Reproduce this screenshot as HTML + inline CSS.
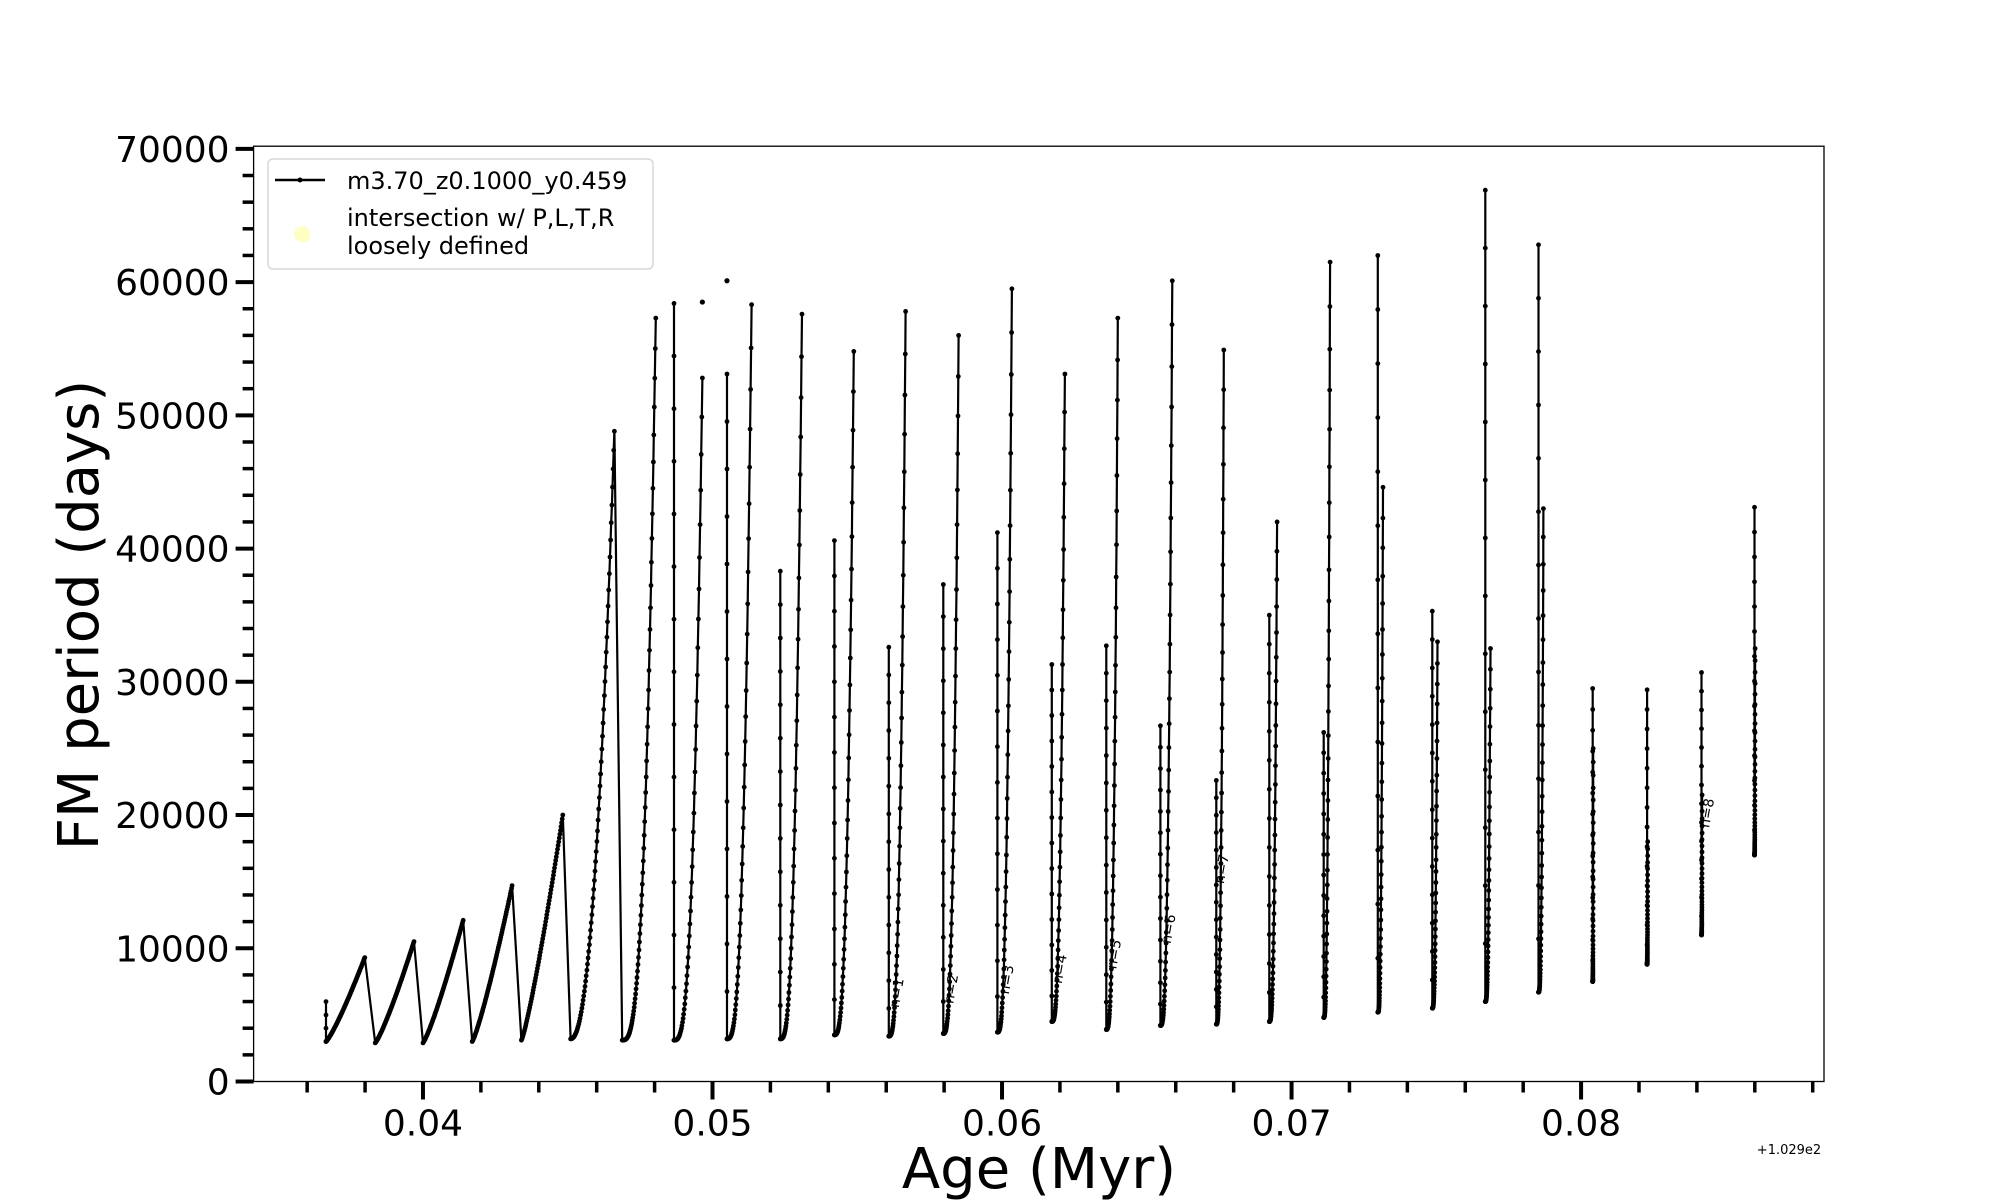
<!DOCTYPE html>
<html><head><meta charset="utf-8"><style>
body{margin:0;background:#fff}
svg{display:block;font-family:"DejaVu Sans","Liberation Sans",sans-serif}
</style></head><body>
<svg id="chart" width="2000" height="1200" viewBox="0 0 2000 1200">
<g id="plot"></g>
<g id="axes"></g>
<text x="1039" y="1188" font-size="56" text-anchor="middle">Age (Myr)</text>
<text transform="translate(98,615) rotate(-90)" font-size="56" text-anchor="middle">FM period (days)</text>
<text x="1789" y="1154" font-size="13" text-anchor="middle">+1.029e2</text>
<g>
<rect x="268" y="159" width="385" height="110" rx="5" fill="#fff" fill-opacity="0.85" stroke="#d8d8d8" stroke-width="1.5"/>
<line x1="275" y1="180" x2="325" y2="180" stroke="#000" stroke-width="2.5"/>
<circle cx="300" cy="180" r="2.5" fill="#000"/>
<text x="347" y="189" font-size="24">m3.70_z0.1000_y0.459</text>
<circle cx="302" cy="234" r="8" fill="#ffff99" fill-opacity="0.6"/>
<text x="347" y="226" font-size="24">intersection w/ P,L,T,R</text>
<text x="347" y="254" font-size="24">loosely defined</text>
</g>
</svg>
<script>
const starts=[0.03665,0.03835,0.0400,0.0417,0.0434,0.0451,0.04688,0.04867,0.0505,0.05234,0.05421,0.05609,0.05797,0.05984,0.06172,0.0636,0.06547,0.0674,0.06923,0.07111,0.07298,0.07486,0.07669,0.07853,0.0804,0.08228,0.08416,0.08599];
const mins=[3000,2900,2900,3000,3100,3200,3100,3100,3200,3200,3500,3400,3600,3700,4500,3900,4200,4300,4500,4800,5200,5500,6000,6700,7500,8800,11000,17000];
const spikes=[6000,0,0,0,0,0,0,58400,53100,38300,40600,32600,37300,41200,31300,32700,26700,22600,35000,26200,62000,35300,66900,62800,29500,29400,30700,43100];
const peakAges=[0.03799,0.03969,0.04139,0.04308,0.04483,0.04661,0.04804,0.04965,0.05135,0.05309,0.05488,0.05667,0.05850,0.06034,0.06217,0.06400,0.06588,0.06766,0.06950,0.07133,0.07316,0.07504,0.07687,0.07870,0.08042,0.08230,0.08418,0.08601];
const peaks=[9300,10500,12100,14700,20000,48800,57300,52800,58300,57600,54800,57800,56000,59500,53100,57300,60100,54900,42000,61500,44600,33000,32500,43000,25000,18000,21500,32500];
const extraAges=[0.04965,0.0505];
const extraVals=[58500,60100];
const labelNames=["n=1","n=2","n=3","n=4","n=5","n=6","n=7","n=8"];
const labelAges=[0.05643,0.05831,0.06023,0.06206,0.06394,0.06582,0.06766,0.08442];
const labelVals=[5500,5800,6500,7300,8400,10300,14800,19000];
const yTicks=[0,10000,20000,30000,40000,50000,60000,70000];
const xTicks=[0.04,0.05,0.06,0.07,0.08];
const xTickLabels=["0.04","0.05","0.06","0.07","0.08"];

const X0=253.6,X1=1824,Y0=1081.5,Y1=146.2,XMIN=0.03415,XMAX=0.08839,YMIN=0,YMAX=70200;
const sx=v=>X0+(v-XMIN)/(XMAX-XMIN)*(X1-X0);
const sy=v=>Y0-(v-YMIN)/(YMAX-YMIN)*(Y0-Y1);
const NS="http://www.w3.org/2000/svg";
const plot=document.getElementById('plot'),axes=document.getElementById('axes');
function mk(tag,attrs,parent){const e=document.createElementNS(NS,tag);for(const k in attrs)e.setAttribute(k,attrs[k]);parent.appendChild(e);return e;}

let segs=[];let cur=[];
for(let i=0;i<starts.length;i++){
  const s=starts[i],m=mins[i];
  if(i>=7){ if(cur.length)segs.push(cur); cur=[]; }
  if(spikes[i]>0){
    const n=i===0?3:14;
    for(let k=0;k<=n;k++){cur.push([s,spikes[i]-(spikes[i]-m)*k/n]);}
  }
  const N=i<7?70:50,p=i<5?1.2:(i<6?2.2:3);
  for(let k=0;k<=N;k++){const t=k/N;cur.push([s+t*(peakAges[i]-s),m+(peaks[i]-m)*Math.pow(t,p)]);}
}
segs.push(cur);
let d='';
segs.forEach(sg=>{sg.forEach((q,j)=>{d+=(j?'L':'M')+sx(q[0]).toFixed(1)+' '+sy(q[1]).toFixed(1);});});
const line=mk('path',{d:d,fill:'none',stroke:'#000','stroke-width':2.2,'stroke-linejoin':'round'},plot);


const dg=mk('g',{fill:'#000'},plot);


segs.forEach(sg=>sg.forEach(q=>{mk('circle',{cx:sx(q[0]).toFixed(1),cy:sy(q[1]).toFixed(1),r:2.4},dg);}));
extraAges.forEach((a,i)=>{const c=mk('circle',{cx:sx(a),cy:sy(extraVals[i]),r:2.6,fill:'#000'},plot);

});
labelNames.forEach((t,i)=>{const x=sx(labelAges[i]),y=sy(labelVals[i]);
const tx=mk('text',{x:0,y:0,'font-size':14,transform:`translate(${x},${y}) rotate(-80)`},plot);tx.textContent=t;

});

const fr=mk('rect',{x:X0,y:Y1,width:X1-X0,height:Y0-Y1,fill:'none',stroke:'#000','stroke-width':1.3},axes);


for(let v=0;v<=70000;v+=2000){const maj=v%10000===0;mk('line',{x1:X0,x2:X0-(maj?18:11),y1:sy(v),y2:sy(v),stroke:'#000','stroke-width':maj?4:3.5},axes);}
yTicks.forEach(v=>{const t=mk('text',{x:X0-24,y:sy(v)+13,'font-size':36,'text-anchor':'end'},axes);t.textContent=v;

});
for(let k=18;k<=44;k++){const v=k*0.002;if(v<XMIN||v>XMAX)continue;const maj=k%5===0;mk('line',{x1:sx(v),x2:sx(v),y1:Y0,y2:Y0+(maj?18:11),stroke:'#000','stroke-width':maj?4:3.5},axes);}
xTicks.forEach((v,i)=>{const t=mk('text',{x:sx(v),y:Y0+54,'font-size':36,'text-anchor':'middle'},axes);t.textContent=xTickLabels[i];

});
</script>
</body></html>
